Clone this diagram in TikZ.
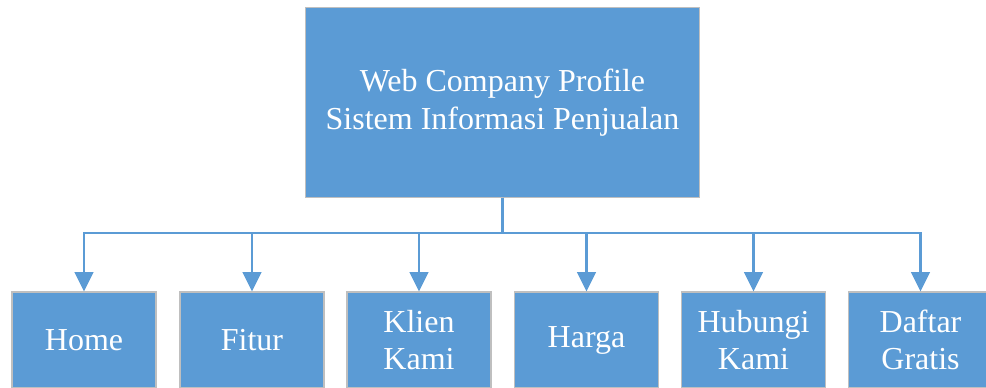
\documentclass[tikz,border=0pt]{standalone}
\usepackage{fontspec}
\setmainfont{Liberation Serif}
\usetikzlibrary{arrows.meta}
\definecolor{boxblue}{HTML}{5B9BD5}
\begin{document}
\begin{tikzpicture}[
    x=0.75pt,y=-0.75pt,
    every node/.style={font=\fontsize{24}{28}\selectfont, text=white},
    unit/.style={draw=black!25, line width=0.9pt, fill=boxblue, inner sep=0pt, align=center},
    page/.style={unit, minimum width=108pt, minimum height=72pt},
    link/.style={draw=boxblue, line width=2pt, -{Triangle[width=14pt,length=14.5pt]}}
]
    \useasboundingbox (0,0) rectangle (986,387);
    \node[unit, minimum width=296pt, minimum height=142pt] (root) at (502.5,102.5) {Web Company Profile\\Sistem Informasi Penjualan};
    \coordinate (bus) at (502.5,233);

    \node[page] (home)    at (84,340)    {Home};
    \node[page] (fitur)   at (252,340)   {Fitur};
    \node[page] (klien)   at (419,340)   {Klien\\Kami};
    \node[page] (harga)   at (586.5,340) {Harga};
    \node[page] (hubungi) at (753.5,340) {Hubungi\\Kami};
    \node[page] (daftar)  at (920.5,340) {Daftar\\Gratis};

    \foreach \p in {home,fitur,klien,harga,hubungi,daftar}
        \draw[link] (root.south) -- (bus) -| (\p.north);
\end{tikzpicture}
\end{document}
